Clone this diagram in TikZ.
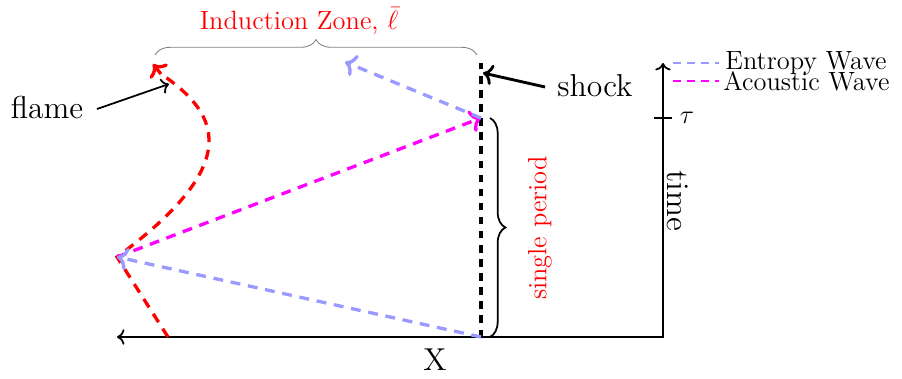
\documentclass[tikz,border=0pt]{standalone}
\usetikzlibrary{decorations.pathreplacing,arrows.meta,calc}
\definecolor{entropy}{RGB}{153,153,255}
\definecolor{acoustic}{RGB}{255,0,255}
\definecolor{flamered}{RGB}{255,0,0}
\begin{document}
\begin{tikzpicture}[x=0.4545pt,y=-0.4545pt,
  wave/.style={dash pattern=on 4.5pt off 3.5pt,line width=1.5pt},
  axis/.style={thick},
  legline/.style={thick,dash pattern=on 3.6pt off 2.8pt},
  txtL/.style={font=\Large,inner sep=0pt},
  txtl/.style={font=\large,inner sep=0pt}]
\useasboundingbox (0,0) rectangle (902,379);
% key points
\coordinate (o) at (117,337);
\coordinate (corner) at (663,337);
\coordinate (ttop) at (663,63);
\coordinate (sbot) at (481,337);
\coordinate (stop) at (481,63);
\coordinate (sref) at (481,118);
\coordinate (fbot) at (168,337);
\coordinate (fmid) at (117,257);
\coordinate (ftop) at (153,64);
\coordinate (fpre) at (161,74);
\coordinate (etop) at (345,62);
% axes
\draw[axis,<->] (o) -- (corner) -- (ttop);
\coordinate (tk1) at (654,118);
\coordinate (tk2) at (672,118);
\draw[axis] (tk1) -- (tk2);
\node[txtl] (tau) at (687,118) {$\tau$};
\node[txtL,rotate=-90] (time) at (678,201) {time};
\node[txtL,anchor=base] (X) at (435,371) {X};
% shock
\draw[dash pattern=on 3.4pt off 3pt,line width=1.9pt] (sbot) -- (stop);
\node[txtL,anchor=base] (shock) at (595,97) {shock};
\coordinate (sst) at (545,87);
\coordinate (sarr) at (483,73);
\draw[line width=1.3pt,->] (sst) -- (sarr);
% flame
\draw[wave,flamered] (fbot) -- (fmid) .. controls (242,165) and (222,115) .. (fpre);
\draw[wave,flamered,->] (fpre) -- (ftop);
\node[txtL,anchor=base] (flame) at (47,119) {flame};
\coordinate (fst) at (97,109);
\coordinate (farr) at (169,84);
\draw[thick,->] (fst) -- (farr);
% waves
\draw[wave,acoustic,->] (fmid) -- (sref);
\draw[wave,entropy,->] (sbot) -- (fmid);
\draw[wave,entropy,->] (sref) -- (etop);
% braces
\coordinate (b1) at (490,337);
\coordinate (b2) at (490,118);
\draw[thick,decorate,decoration={brace,amplitude=7pt}] (b2) -- (b1);
\node[txtl,rotate=90,red] (sp) at (540,228) {single period};
\coordinate (i1) at (155,55);
\coordinate (i2) at (477,55);
\draw[gray,decorate,decoration={brace,amplitude=7pt}] (i1) -- (i2);
\node[txtl,red,anchor=base] (iz) at (299,29.5) {Induction Zone, $\bar{\ell}$};
% legend
\coordinate (l1a) at (673,63); \coordinate (l1b) at (719,63);
\coordinate (l2a) at (673,81); \coordinate (l2b) at (719,81);
\draw[entropy,legline] (l1a) -- (l1b);
\draw[acoustic,legline] (l2a) -- (l2b);
\node[txtl,anchor=west] (le) at (725,63.5) {Entropy Wave};
\node[txtl,anchor=west] (la) at (723,81) {Acoustic Wave};
\end{tikzpicture}
\end{document}
